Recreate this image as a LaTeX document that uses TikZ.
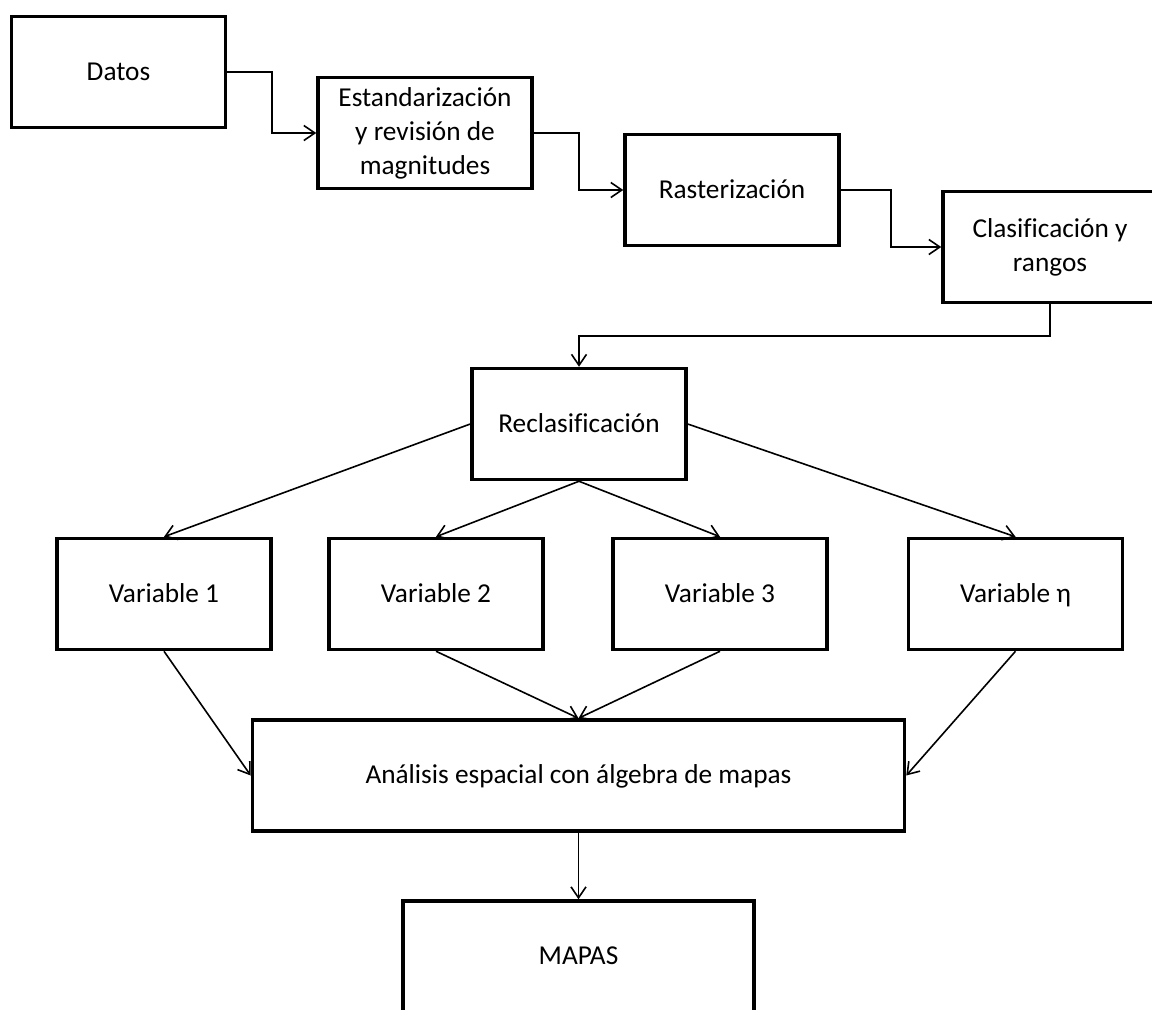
\documentclass[tikz,border=0pt]{standalone}
\usepackage{fontspec}
\setmainfont[Ligatures=NoCommon]{Carlito}
\usetikzlibrary{arrows.meta}
\begin{document}
\begin{tikzpicture}[x=1pt,y=-1pt,
  box/.style={draw=black,line width=3.5pt,rectangle,minimum width=214pt,minimum height=111pt,
    align=center,inner sep=0pt,font=\fontsize{27.3}{34}\selectfont},
  one/.style={text height=22pt,text depth=5.5pt},
  conn/.style={line width=1.6pt,-{Straight Barb[length=11pt,width=15pt,line width=1.6pt]}}]
\useasboundingbox (0,0) rectangle (1152,1010);
\clip (0,0) rectangle (1152,1010);
\node[box,one] (datos) at (118.5,72) {Datos};
\node[box] (estand) at (425,133) {Estandarización\\y revisión de\\magnitudes};
\node[box,one] (rast) at (732,190) {Rasterización};
\node[box] (clasif) at (1050,247) {Clasificación y\\rangos};
\node[box,one] (reclas) at (579,424) {Reclasificación};
\node[box,one] (v1) at (164,594) {Variable 1};
\node[box,one] (v2) at (436,594) {Variable 2};
\node[box,one] (v3) at (720,594) {Variable 3};
\node[box,one] (vn) at (1015.5,594) {Variable η};
\node[box,one,minimum width=652pt] (anal) at (578.5,775.5) {Análisis espacial con álgebra de mapas};
\node[box,one,minimum width=351pt] (mapas) at (578.5,956.5) {MAPAS};
\coordinate (e1) at (272,0);
\coordinate (e2) at (579,0);
\coordinate (e3) at (891,0);
\coordinate (e4) at (0,336);
\draw[conn] (datos.east) -| (e1 |- estand.west) -- (estand.west);
\draw[conn] (estand.east) -| (e2 |- rast.west) -- (rast.west);
\draw[conn] (rast.east) -| (e3 |- clasif.west) -- (clasif.west);
\draw[conn] (clasif.south) -- (clasif.south |- e4) -| (reclas.north);
\draw[conn] (reclas.west) -- (v1.north);
\draw[conn] (reclas.south) -- (v2.north);
\draw[conn] (reclas.south) -- (v3.north);
\draw[conn] (reclas.east) -- (vn.north);
\draw[conn] (v1.south) -- (anal.west);
\draw[conn] (v2.south) -- (anal.north);
\draw[conn] (v3.south) -- (anal.north);
\draw[conn] (vn.south) -- (anal.east);
\draw[conn] (anal.south) -- (mapas.north);
\end{tikzpicture}
\end{document}
